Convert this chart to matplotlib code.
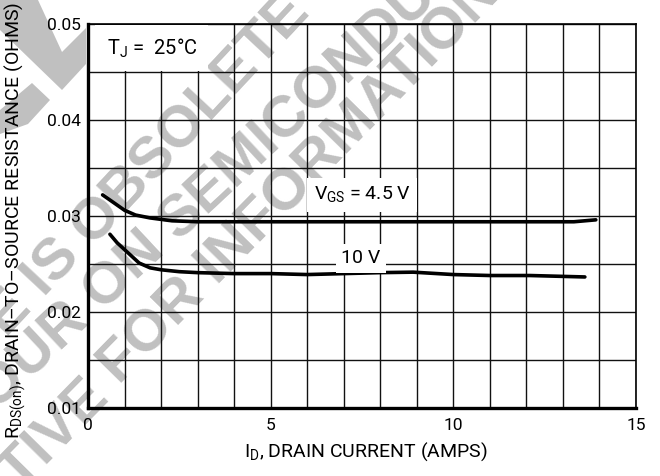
import numpy as np
import matplotlib
matplotlib.use("Agg")
import matplotlib.pyplot as plt
from matplotlib.transforms import IdentityTransform
from matplotlib.patches import Polygon

# ---------------------------------------------------------
# RDS(on) vs drain current
# ---------------------------------------------------------
id_45 = [0.4, 0.7, 1.0, 1.3, 1.7, 2.3, 3.0, 4.0, 6.0, 8.0, 10.0, 12.0, 13.3, 13.9]
r_45 = [0.0322, 0.0314, 0.0306, 0.0301, 0.0298, 0.0295, 0.0294, 0.0294,
        0.0294, 0.0294, 0.0294, 0.0294, 0.0294, 0.0296]

id_10 = [0.6, 0.8, 1.0, 1.2, 1.4, 1.7, 2.0, 2.5, 3.0, 4.0, 5.0, 6.0, 7.0,
         8.0, 8.9, 10.0, 11.0, 12.1, 13.6]
r_10 = [0.0281, 0.0272, 0.0265, 0.0258, 0.0251, 0.0246, 0.0244, 0.0242,
        0.0241, 0.0240, 0.0240, 0.0239, 0.0240, 0.0241, 0.02415, 0.0239,
        0.0238, 0.0238, 0.02365]

x_major = [0, 5, 10, 15]
y_major = [0.01, 0.02, 0.03, 0.04, 0.05]
y_labels = ["0.01", "0.02", "0.03", "0.04", "0.05"]

# watermark lines: (text before anchor word, rest, anchor px, angle)
wm_lines = [
    ("THIS DEVICE IS", "OBSOLETE", (92, 247), 47),
    ("CONTACT YOUR ON", "SEMICONDUCTOR", (178, 242), 43),
    ("REPRESENTATIVE", "FOR INFORMATION", (120, 386), 45.5),
]

FONT = ["Roboto", "DejaVu Sans"]
plt.rcParams["font.family"] = FONT
plt.rcParams["mathtext.fontset"] = "custom"
plt.rcParams["mathtext.rm"] = "Roboto"

W, H = 660, 476
fig = plt.figure(figsize=(6.6, 4.76), dpi=100)
ax = fig.add_axes([88 / W, 1 - 408 / H, 548 / W, 384 / H])
ax.set_facecolor("none")

# --- watermark (drawn behind the axes) ---
wm_col = "#c0c0c0"
for pre, rest, (px, py), ang in wm_lines:
    x0, y0 = px, H - py
    a = np.radians(ang)
    gap = 15
    fig.text(x0, y0, rest, transform=IdentityTransform(), rotation=ang,
             rotation_mode="anchor", ha="left", va="baseline", color=wm_col,
             fontsize=42, fontweight="bold", family="Liberation Sans", zorder=-5)
    fig.text(x0 - gap * np.cos(a), y0 - gap * np.sin(a), pre,
             transform=IdentityTransform(), rotation=ang, rotation_mode="anchor",
             ha="right", va="baseline", color=wm_col, fontsize=42,
             fontweight="bold", family="Liberation Sans", zorder=-5)

chev = [(0, 0), (38, 0), (62, 52), (86, 28), (86, 64), (62, 90), (0, 30)]
chev2 = [(0, 110), (32, 83), (50, 100), (28, 124), (0, 134)]
for pts in (chev, chev2):
    fig.patches.append(Polygon([(x, H - y) for x, y in pts], closed=True,
                               transform=IdentityTransform(), facecolor=wm_col,
                               edgecolor="none", zorder=-5))

# --- curves ---
ax.plot(id_45, r_45, color="black", lw=2.6, solid_capstyle="round", zorder=3)
ax.plot(id_10, r_10, color="black", lw=2.6, solid_capstyle="round", zorder=3)

ax.set_xlim(0, 15)
ax.set_ylim(0.01, 0.05)
ax.set_xticks(x_major)
ax.set_xticks(np.arange(0, 16, 1), minor=True)
ax.set_yticks(y_major)
ax.set_yticklabels(y_labels)
ax.set_yticks(np.arange(0.01, 0.0501, 0.005), minor=True)
ax.grid(which="both", color="#111111", lw=1.0, zorder=1)
ax.set_axisbelow(True)
ax.tick_params(which="both", length=0, labelsize=12.5)
ax.tick_params(axis="x", pad=7)
ax.tick_params(axis="y", pad=5)

for side in ("left", "bottom"):
    ax.spines[side].set_linewidth(2.4)
for side in ("top", "right"):
    ax.spines[side].set_linewidth(1.2)

ax.set_xlabel(r"I$_\mathregular{D}$, DRAIN CURRENT (AMPS)", fontsize=14)
ax.xaxis.set_label_coords(0.507, -0.085)
ax.set_ylabel(r"R$_\mathregular{DS(on)}$, DRAIN–TO–SOURCE RESISTANCE (OHMS)",
              fontsize=14)
ax.yaxis.set_label_coords(-0.11, 0.49)

box = dict(facecolor="white", edgecolor="none", pad=5)
ax.text(1.75, 0.0475, r"T$_\mathregular{J}$ =  25°C", fontsize=14.5,
        ha="center", va="center",
        bbox=dict(facecolor="white", edgecolor="none", pad=8), zorder=4)
ax.text(7.5, 0.0322, r"V$_\mathregular{GS}$ = 4.5 V", fontsize=14,
        ha="center", va="center", bbox=box, zorder=4)
ax.text(7.47, 0.0256, "10 V", fontsize=14, ha="center", va="center",
        bbox=dict(facecolor="white", edgecolor="none", pad=4), zorder=4)

fig.savefig("out.png", dpi=100)
